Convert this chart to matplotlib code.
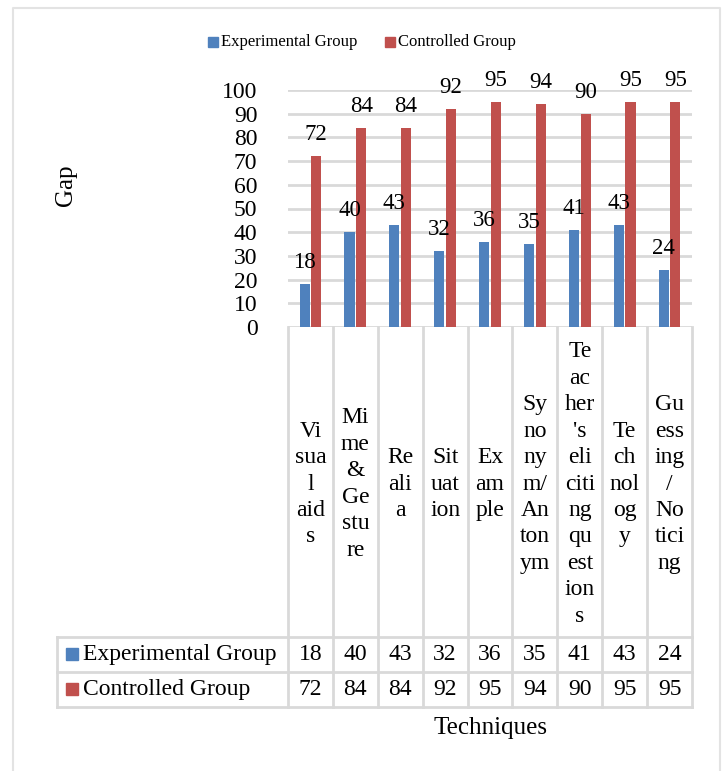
import matplotlib
matplotlib.use("Agg")
import matplotlib.pyplot as plt
from matplotlib.patches import Rectangle

plt.rcParams["font.family"] = ["Liberation Serif", "DejaVu Serif"]

# Chart data
TECHNIQUES = ["Visual aids", "Mime & Gesture", "Realia", "Situation", "Example",
              "Synonym/Antonym", "Teacher's eliciting questions", "Technology",
              "Guessing / Noticing"]
# Category labels as wrapped inside the narrow table columns
WRAPPED_LABELS = [
    "Vi\nsua\nl\naid\ns",
    "Mi\nme\n&\nGe\nstu\nre",
    "Re\nali\na",
    "Sit\nuat\nion",
    "Ex\nam\nple",
    "Sy\nno\nny\nm/\nAn\nton\nym",
    "Te\nac\nher\n's\neli\nciti\nng\nqu\nest\nion\ns",
    "Te\nch\nnol\nog\ny",
    "Gu\ness\ning\n/\nNo\ntici\nng",
]
SERIES = ["Experimental Group", "Controlled Group"]
EXPERIMENTAL = [18, 40, 43, 32, 36, 35, 41, 43, 24]
CONTROLLED = [72, 84, 84, 92, 95, 94, 90, 95, 95]
Y_TICKS = [0, 10, 20, 30, 40, 50, 60, 70, 80, 90, 100]

BLUE = "#4F81BD"
RED = "#C0504D"
GRID = "#D9D9D9"

W, H = 723, 771
fig = plt.figure(figsize=(W / 100, H / 100), dpi=100)

# pixel layout helpers
def fx(px):
    return px / W

def fy(py):
    return 1 - py / H

plot_l, plot_r = 288, 692
plot_t, plot_b = 90, 327
label_b = 637
row1_b = 672
row2_b = 707
table_l = 57
n = len(TECHNIQUES)
col_w = (plot_r - plot_l) / n

# overlay for table, border and titles (pixel coordinates)
ov = fig.add_axes([0, 0, 1, 1], zorder=0)
ov.set_xlim(0, W)
ov.set_ylim(H, 0)
ov.axis("off")

# outer chart border
ov.plot([13, 13, 720, 720], [H + 5, 8, 8, H + 5], color="#E3E3E3", lw=1.5)

# bar axes
ax = fig.add_axes([fx(plot_l), fy(plot_b), fx(plot_r - plot_l), (plot_b - plot_t) / H],
                  zorder=2)
ax.set_facecolor("none")
x = list(range(n))
bw = 0.225
gap = 0.035
off = (bw + gap) / 2
ax.bar([i - off for i in x], EXPERIMENTAL, width=bw, color=BLUE, zorder=3)
ax.bar([i + off for i in x], CONTROLLED, width=bw, color=RED, zorder=3)
for i in x:
    ax.annotate(str(EXPERIMENTAL[i]), (i - off, EXPERIMENTAL[i]), xytext=(0, 11.5),
                textcoords="offset points", ha="center", va="baseline",
                fontsize=16.5, zorder=4, annotation_clip=False)
    ax.annotate(str(CONTROLLED[i]), (i + off, CONTROLLED[i]), xytext=(0, 11.5),
                textcoords="offset points", ha="center", va="baseline",
                fontsize=16.5, zorder=4, annotation_clip=False)

ax.set_xlim(-0.5, n - 0.5)
ax.set_ylim(0, 100)
ax.set_yticks(Y_TICKS)
ax.set_xticks([])
ax.tick_params(axis="y", length=0, labelsize=17, pad=22)
for s in ax.spines.values():
    s.set_visible(False)
ax.yaxis.grid(True, color=GRID, lw=2)
ax.set_axisbelow(True)

# data table lines
lc = dict(color=GRID, lw=2, solid_capstyle="projecting")
for i in range(n + 1):
    xx = plot_l + i * col_w
    ov.plot([xx, xx], [plot_b, row2_b], **lc)
for yy in (label_b, row1_b, row2_b):
    ov.plot([table_l, plot_r], [yy, yy], **lc)
ov.plot([table_l, table_l], [label_b, row2_b], **lc)

# category labels
for i, lab in enumerate(WRAPPED_LABELS):
    ov.text(plot_l + (i + 0.5) * col_w, (plot_b + label_b) / 2 + 2, lab,
            ha="center", va="center", fontsize=17, linespacing=1.34)

# table rows with legend keys
rows = [(SERIES[0], EXPERIMENTAL, BLUE, (label_b + row1_b) / 2),
        (SERIES[1], CONTROLLED, RED, (row1_b + row2_b) / 2)]
for name, vals, col, yc in rows:
    ov.add_patch(Rectangle((66, yc - 6.5), 12, 12, color=col))
    ov.text(83, yc, name, ha="left", va="center", fontsize=17)
    for i, v in enumerate(vals):
        ov.text(plot_l + (i + 0.5) * col_w, yc, str(v), ha="center", va="center",
                fontsize=17)

# axis titles
ov.text(66, 185, "Gap", rotation=90, ha="center", va="center", fontsize=18)
ov.text(490, 728, "Techniques", ha="center", va="center", fontsize=18)

# top legend
for xs, name, col in [(208, SERIES[0], BLUE), (385, SERIES[1], RED)]:
    ov.add_patch(Rectangle((xs, 37), 10, 10, color=col))
    ov.text(xs + 13, 42, name, ha="left", va="center", fontsize=12)

fig.savefig("out.png", dpi=100)
